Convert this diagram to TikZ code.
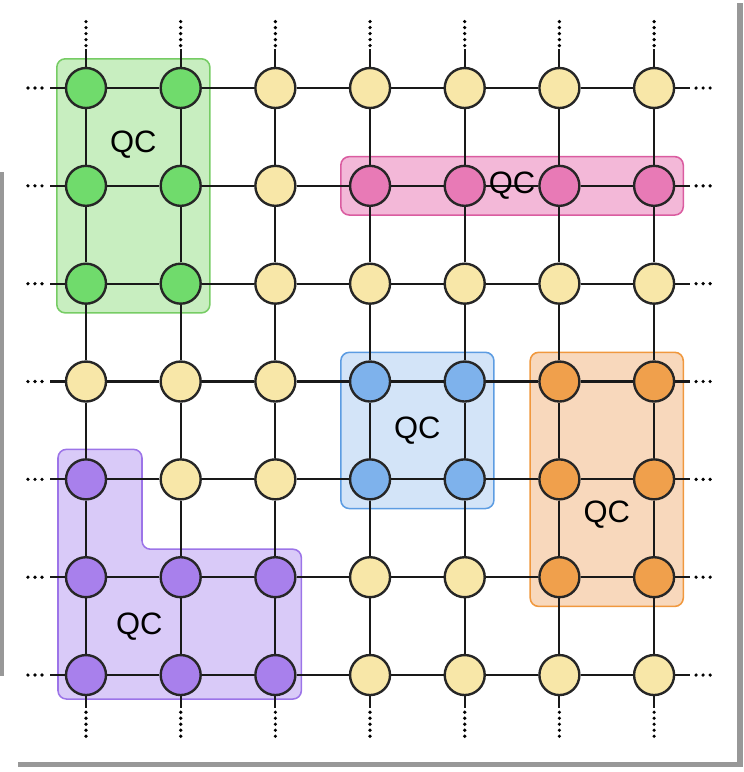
\documentclass[tikz,border=0pt]{standalone}
\usepackage{fontspec}
\setsansfont{Liberation Sans}
\usetikzlibrary{positioning,fit,backgrounds,calc}

\definecolor{latYellow}{RGB}{248,231,168}
\definecolor{latGreen}{RGB}{112,219,108}
\definecolor{latGreenBg}{RGB}{200,238,192}
\definecolor{latGreenLine}{RGB}{118,204,100}
\definecolor{latPink}{RGB}{232,122,182}
\definecolor{latPinkBg}{RGB}{243,184,216}
\definecolor{latPinkLine}{RGB}{218,92,160}
\definecolor{latBlue}{RGB}{126,178,236}
\definecolor{latBlueBg}{RGB}{211,228,248}
\definecolor{latBlueLine}{RGB}{92,156,226}
\definecolor{latOrange}{RGB}{240,160,76}
\definecolor{latOrangeBg}{RGB}{248,216,188}
\definecolor{latOrangeLine}{RGB}{240,152,62}
\definecolor{latPurple}{RGB}{168,128,236}
\definecolor{latPurpleBg}{RGB}{217,202,248}
\definecolor{latPurpleLine}{RGB}{156,116,232}
\definecolor{latFrame}{RGB}{152,152,152}

\tikzset{
  lat/qubit/.style={circle, draw=black!85, line width=1.7pt, fill=latYellow,
                    minimum size=1cm, inner sep=0pt},
  lat/link/.style={line width=1.5pt, draw=black!90},
  lat/vdots/.style={line width=2.6pt, line cap=round, dash pattern=on 0pt off 4.27pt},
  lat/hdots/.style={line width=2.6pt, line cap=round, dash pattern=on 0pt off 5pt},
  lat/patch/.style={rounded corners=6pt, line width=1.1pt, inner sep=0.2cm},
  lat/lbl/.style={font=\sffamily\fontsize{22}{24}\selectfont, inner sep=0pt},
  % patch members, keyed by column-row
  lat/g/.style={fill=latGreen},  lat/p/.style={fill=latPink},
  lat/b/.style={fill=latBlue},   lat/o/.style={fill=latOrange},
  lat/v/.style={fill=latPurple},
  lat/q-0-0/.style={lat/g}, lat/q-1-0/.style={lat/g}, lat/q-0-1/.style={lat/g},
  lat/q-1-1/.style={lat/g}, lat/q-0-2/.style={lat/g}, lat/q-1-2/.style={lat/g},
  lat/q-3-1/.style={lat/p}, lat/q-4-1/.style={lat/p}, lat/q-5-1/.style={lat/p},
  lat/q-6-1/.style={lat/p},
  lat/q-3-3/.style={lat/b}, lat/q-4-3/.style={lat/b}, lat/q-3-4/.style={lat/b},
  lat/q-4-4/.style={lat/b},
  lat/q-5-3/.style={lat/o}, lat/q-6-3/.style={lat/o}, lat/q-5-4/.style={lat/o},
  lat/q-6-4/.style={lat/o}, lat/q-5-5/.style={lat/o}, lat/q-6-5/.style={lat/o},
  lat/q-0-4/.style={lat/v}, lat/q-0-5/.style={lat/v}, lat/q-1-5/.style={lat/v},
  lat/q-2-5/.style={lat/v}, lat/q-0-6/.style={lat/v}, lat/q-1-6/.style={lat/v},
  lat/q-2-6/.style={lat/v},
}

\begin{document}
\begin{tikzpicture}
  \useasboundingbox (-2.15,2.2) rectangle (16.425,-17.1);

  % ---------------- frame strips ----------------
  \fill[latFrame] (-2.15,-2.1) rectangle (-2.05,-14.7);
  \fill[latFrame] (16.275,2.125) rectangle (16.425,-16.975);
  \fill[latFrame] (-1.7,-16.85) rectangle (16.425,-16.975);

  % ---------------- qubit lattice ----------------
  \foreach \i in {0,...,6}
    \foreach \j in {0,...,6}
      \node[lat/qubit, lat/q-\i-\j/.try] (q-\i-\j) at (\i*2.367, -\j*2.446) {};

  \foreach \j in {0,...,6}
    \foreach \i [count=\n from 1] in {0,...,5}
      \draw[lat/link] (q-\i-\j) -- (q-\n-\j);
  \foreach \i in {0,...,6}
    \foreach \j [count=\n from 1] in {0,...,5}
      \draw[lat/link] (q-\i-\j) -- (q-\i-\n);

  % ---------------- open boundary stubs ----------------
  \foreach \k in {0,...,6} {
    \draw[lat/link] (q-\k-0.north) -- ++(0,0.45) coordinate (top-\k);
    \draw[lat/vdots] ([yshift=0.08cm]top-\k) -- ++(0,0.61);
    \draw[lat/link] (q-\k-6.south) -- ++(0,-0.3) coordinate (bot-\k);
    \draw[lat/vdots] ([yshift=-0.1cm]bot-\k) -- ++(0,-0.61);
    \draw[lat/link] (q-0-\k.west) -- ++(-0.38,0) coordinate (lft-\k);
    \draw[lat/hdots] ([xshift=-0.19cm]lft-\k) -- ++(-0.36,0);
    \draw[lat/link] (q-6-\k.east) -- ++(0.36,0) coordinate (rgt-\k);
    \draw[lat/hdots] ([xshift=0.16cm]rgt-\k) -- ++(0.36,0);
  }

  % ---------------- QC patches ----------------
  \begin{scope}[on background layer]
    \node[lat/patch, fit=(q-0-0)(q-1-2), fill=latGreenBg, draw=latGreenLine] (green) {};
    \node[lat/patch, fit=(q-3-1)(q-6-1), fill=latPinkBg, draw=latPinkLine] (pink) {};
    \node[lat/patch, fit=(q-3-3)(q-4-4), fill=latBlueBg, draw=latBlueLine] (blue) {};
    \node[lat/patch, fit=(q-5-3)(q-6-5), fill=latOrangeBg, draw=latOrangeLine] (orange) {};
    % L-shaped patch
    \coordinate (pTL)    at ([shift={(-0.7,0.75)}]q-0-4.center);
    \coordinate (pNotch) at ([shift={(1.4,0.7)}]q-0-5.center);
    \coordinate (pBR)    at ([shift={(0.65,-0.6)}]q-2-6.center);
    \coordinate (pL)     at (pTL |- q-0-5);
    \draw[lat/patch, fill=latPurpleBg, draw=latPurpleLine]
      (pL) -- (pTL) -| (pNotch) -| (pBR) -| (pL) -- cycle;
  \end{scope}

  \node[lat/lbl, yshift=-0.2cm] (qc-green)  at ($(q-0-0)!0.5!(q-1-1)$) {QC};
  \node[lat/lbl]                (qc-pink)   at ($(q-4-1)!0.5!(q-5-1)$) {QC};
  \node[lat/lbl]                (qc-blue)   at ($(q-3-3)!0.5!(q-4-4)$) {QC};
  \node[lat/lbl, yshift=0.35cm] (qc-orange) at ($(q-5-4)!0.5!(q-6-5)$) {QC};
  \node[lat/lbl, xshift=0.15cm] (qc-purple) at ($(q-0-5)!0.5!(q-1-6)$) {QC};

\end{tikzpicture}
\end{document}
